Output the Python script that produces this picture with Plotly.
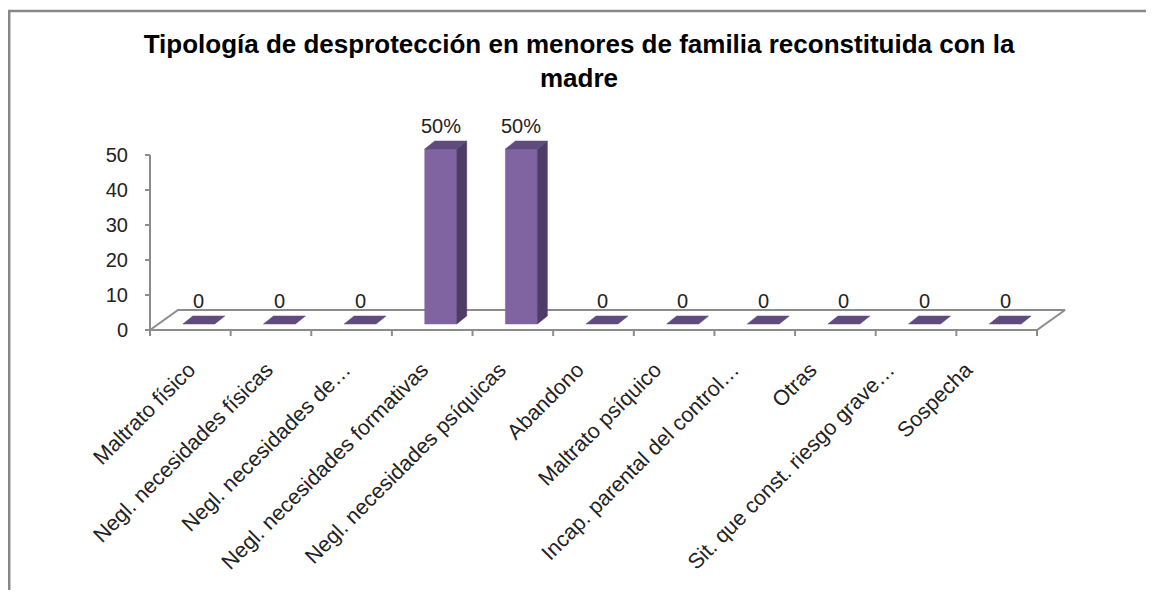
import plotly.graph_objects as go

# ---------------- data ----------------
categories = [
    "Maltrato físico",
    "Negl. necesidades físicas",
    "Negl. necesidades de…",
    "Negl. necesidades formativas",
    "Negl. necesidades psíquicas",
    "Abandono",
    "Maltrato psíquico",
    "Incap. parental del control…",
    "Otras",
    "Sit. que const. riesgo grave…",
    "Sospecha",
]
values = [0, 0, 0, 50, 50, 0, 0, 0, 0, 0, 0]
y_ticks = [0, 10, 20, 30, 40, 50]
title_text = "Tipología de desprotección en menores de familia reconstituida con la<br>madre"

# ---------------- geometry / style ----------------
# the page body adds an 8px margin, so the figure is sized to fit the window
W, H = 1138, 582
L, R, T, B = 127, 72, 92, 242
U = 887 / 11.0           # px per category unit
V = 175 / 50.0           # px per value unit
X0PIX, Y0PIX = 142, 322  # figure pixel of (x=-0.5, y=0)

xr = [-0.5 - (X0PIX - L) / U, -0.5 + (W - R - X0PIX) / U]
yr = [-((H - B) - Y0PIX) / V, (Y0PIX - T) / V]

n = len(categories)
dxF, dyF = 28 / U, 20 / V      # floor depth
dxf, dyf = 8.5 / U, 6 / V      # bar position in depth
dxs, dys = 10 / U, 8 / V       # bar depth
hw = 16 / U                    # half bar width
lab_step = 77.7 / U            # spacing of the slanted category labels
lab_start = 39 / U             # first label anchor relative to the axis start

AX = "#8c8c8c"
FONT = "Arial, Liberation Sans, sans-serif"
FS = 20
FSX = 21.5

fig = go.Figure()

# floor outline
left, right = -0.5, n - 0.5
fig.add_trace(go.Scatter(
    x=[left, right, right + dxF, left + dxF, left],
    y=[0, 0, dyF, dyF, 0],
    mode="lines", line=dict(color=AX, width=2), hoverinfo="skip", showlegend=False))

# category boundary ticks + y axis line + y ticks
tx, ty = [], []
for k in range(n + 1):
    b = -0.5 + k
    tx += [b, b, None]
    ty += [0, -6 / V, None]
tx += [left, left, None]
ty += [0, y_ticks[-1], None]
for t in y_ticks:
    tx += [left - 5 / U, left, None]
    ty += [t, t, None]
fig.add_trace(go.Scatter(x=tx, y=ty, mode="lines", line=dict(color=AX, width=2),
                         hoverinfo="skip", showlegend=False))

# bars (3D look)
front_x, front_y, side_x, side_y, top_x, top_y = [], [], [], [], [], []
for i, v in enumerate(values):
    fl, fr = i - hw + dxf, i + hw + dxf
    yb, yt = dyf, v + dyf
    if v > 0:
        front_x += [fl, fr, fr, fl, fl, None]
        front_y += [yb, yb, yt, yt, yb, None]
        side_x += [fr, fr + dxs, fr + dxs, fr, fr, None]
        side_y += [yb, yb + dys, yt + dys, yt, yb, None]
    top_x += [fl, fr, fr + dxs, fl + dxs, fl, None]
    top_y += [yt, yt, yt + dys, yt + dys, yt, None]

for xs, ys, col in [(front_x, front_y, "#8064A2"), (side_x, side_y, "#4E3C66"),
                    (top_x, top_y, "#604B7E")]:
    fig.add_trace(go.Scatter(x=xs, y=ys, mode="lines", fill="toself", fillcolor=col,
                             line=dict(color=col, width=0.5), hoverinfo="skip",
                             showlegend=False))

# data labels
for i, v in enumerate(values):
    fig.add_annotation(x=i + dxf, y=v + dyf, yshift=23.5, text=(f"{v}%" if v else "0"),
                       showarrow=False, xanchor="center", yanchor="middle",
                       font=dict(family=FONT, size=FS, color="#222222"))

# chart border
pw, ph = W - L - R, H - T - B
fig.add_shape(type="rect", xref="paper", yref="paper",
              x0=(1.2 - L) / pw, x1=(W + 20 - L) / pw,
              y0=((H - B) - (H + 20)) / ph, y1=((H - B) - 3) / ph,
              line=dict(color="#888888", width=2.5), fillcolor="rgba(0,0,0,0)", layer="below")

fig.update_layout(
    width=W, height=H, autosize=False,
    margin=dict(l=L, r=R, t=T, b=B, pad=0),
    paper_bgcolor="white", plot_bgcolor="white",
    title=dict(text=title_text, x=571 / W, xanchor="center", xref="container",
               y=1 - 45 / H, yanchor="middle", yref="container",
               font=dict(family=FONT, size=26, color="black", weight="bold")),
    xaxis=dict(range=xr, tickmode="array",
               tickvals=[left + lab_start + i * lab_step for i in range(n)],
               ticktext=categories,
               tickangle=-45, ticks="", showline=False, showgrid=False, zeroline=False,
               ticklabelstandoff=4,
               tickfont=dict(family=FONT, size=FSX, color="#222222"), automargin=False,
               fixedrange=True),
    yaxis=dict(range=yr, tickmode="array", tickvals=y_ticks, ticks="", showline=False,
               showgrid=False, zeroline=False, ticklabelstandoff=6,
               tickfont=dict(family=FONT, size=FS, color="#222222"), automargin=False,
               fixedrange=True),
    showlegend=False,
)

fig.write_html("out.html")
